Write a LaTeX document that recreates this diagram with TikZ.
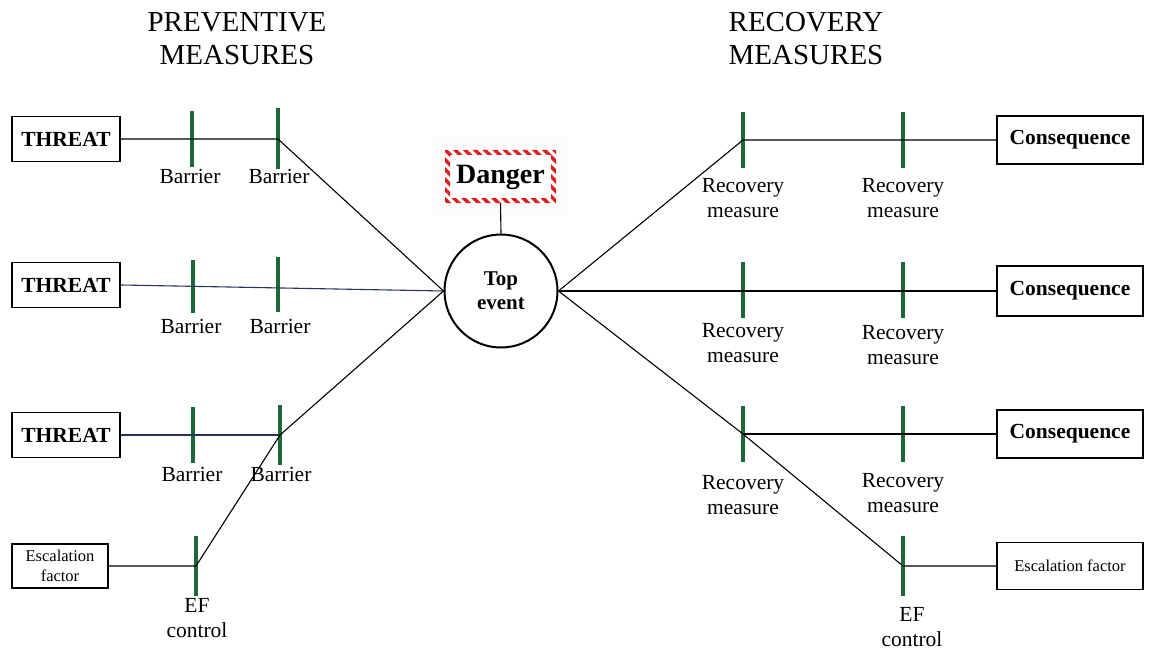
\documentclass[tikz,border=0pt]{standalone}
\usepackage{fontspec}
\setmainfont{Liberation Serif}
\usetikzlibrary{patterns.meta}
\definecolor{bargreen}{RGB}{28,104,56}
\definecolor{navyline}{RGB}{40,52,92}
\definecolor{dangerred}{RGB}{222,30,30}
\begin{document}
\begin{tikzpicture}[x=1pt,y=-1pt,
  box/.style={draw, line width=1.8pt, rectangle, inner sep=0pt},
  threat/.style={box, minimum width=108pt, minimum height=45pt, font=\fontsize{21.5}{24}\selectfont\bfseries},
  conseq/.style={box, minimum width=146pt, minimum height=48pt, font=\fontsize{21.5}{24}\selectfont\bfseries},
  escal/.style={box, font=\fontsize{16.5}{20}\selectfont, align=center},
  barmark/.style={fill=bargreen, draw=none, rectangle, inner sep=0pt, minimum width=4pt, minimum height=56pt},
  lbl/.style={font=\fontsize{21.5}{25}\selectfont, align=center, inner sep=0pt},
  title/.style={font=\fontsize{29}{33}\selectfont, align=center, inner sep=0pt},
  conn/.style={line width=1.1pt, draw=black},
  navyconn/.style={line width=1.1pt, draw=navyline}
]
\useasboundingbox (0,0) rectangle (1150,655);

% headings
\node[title] (hprev) at (237,39) {PREVENTIVE\\MEASURES};
\node[title] (hrec) at (806,39) {RECOVERY\\MEASURES};

% hazard and top event
\fill[gray!3] (432,137) rectangle (568,215);
\node[draw=none, minimum width=111pt, minimum height=53pt, inner sep=0pt] (danger) at (500.5,176.5) {};
\fill[white] (445,150) rectangle (556,203);
\fill[pattern={Lines[angle=-45,distance=7pt,line width=3.5pt]}, pattern color=dangerred, even odd rule]
  (445,150) rectangle (556,203) (450,155) rectangle (551,198);
\node[font=\fontsize{28}{30}\selectfont\bfseries, inner sep=0pt] (dangertext) at (500.5,177) {Danger};
\node[draw, circle, line width=2pt, minimum size=113pt, inner sep=0pt, align=center,
      font=\fontsize{21}{24}\selectfont\bfseries] (top) at (501,291) {Top\\event};
\draw[conn] (danger.south) -- (top.north);

% threats and escalation factor (left)
\node[threat] (t1) at (66,139) {THREAT};
\node[threat] (t2) at (66,285) {THREAT};
\node[threat] (t3) at (66,435) {THREAT};
\node[escal, minimum width=96pt, minimum height=44pt] (ef1) at (60,566) {Escalation\\factor};

% consequences and escalation factor (right)
\node[conseq] (c1) at (1070,140) {Consequence};
\node[conseq, minimum height=50pt] (c2) at (1070,291) {Consequence};
\node[conseq] (c3) at (1070,434) {Consequence};
\node[escal, minimum width=146pt, minimum height=47pt] (ef2) at (1070,566) {Escalation factor};

% barriers
\node[barmark] (b11) at (192,139) {};
\node[barmark, minimum height=61pt] (b12) at (278,139) {};
\node[barmark, minimum height=53pt] (b21) at (193,286.5) {};
\node[barmark, minimum height=55pt] (b22) at (278,284.5) {};
\node[barmark] (b31) at (193,435) {};
\node[barmark, minimum height=60pt] (b32) at (280,435) {};
\node[barmark, minimum height=60pt] (e1) at (196,566) {};

% recovery measures
\node[barmark] (r11) at (743,140) {};
\node[barmark] (r12) at (903,140) {};
\node[barmark] (r21) at (743,290) {};
\node[barmark] (r22) at (903,290) {};
\node[barmark] (r31) at (743,434) {};
\node[barmark] (r32) at (903,434) {};
\node[barmark, minimum height=60pt] (e2) at (903,566) {};

% connectors, left side
\draw[conn] (t1.east) -- (b12.center) -- (top.west);
\draw[navyconn] (t2.east) -- (top.west);
\draw[navyconn] (t3.east) -- (b32.center);
\draw[conn] (ef1.east) -- (e1.center) -- (b32.center) -- (top.west);

% connectors, right side
\draw[conn] (top.east) -- (r11.center) -- (c1.west);
\draw[conn] (top.east) -- (c2.west);
\draw[conn] (top.east) -- (r31.center) -- (e2.center) -- (ef2.west);
\draw[conn] (r31.center) -- (c3.west);

% labels
\node[lbl] (l11) at (190,176) {Barrier};
\node[lbl] (l12) at (279,176) {Barrier};
\node[lbl] (l21) at (191,326) {Barrier};
\node[lbl] (l22) at (280,326) {Barrier};
\node[lbl] (l31) at (192,474) {Barrier};
\node[lbl] (l32) at (281,474) {Barrier};
\node[lbl] (le1) at (197,618) {EF\\control};

\node[lbl] (m11) at (743,198) {Recovery\\measure};
\node[lbl] (m12) at (903,198) {Recovery\\measure};
\node[lbl] (m21) at (743,343) {Recovery\\measure};
\node[lbl] (m22) at (903,345) {Recovery\\measure};
\node[lbl] (m31) at (743,495) {Recovery\\measure};
\node[lbl] (m32) at (903,493) {Recovery\\measure};
\node[lbl] (le2) at (912,627) {EF\\control};
\end{tikzpicture}
\end{document}
